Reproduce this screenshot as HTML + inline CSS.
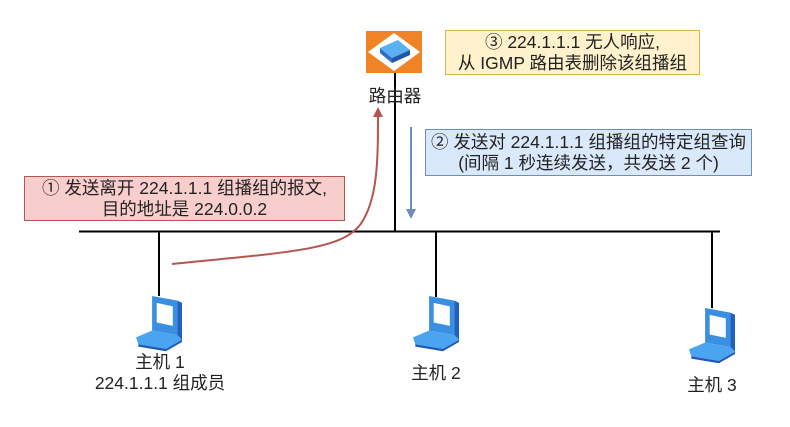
<!DOCTYPE html>
<html><head><meta charset="utf-8"><style>
body{margin:0;width:790px;height:427px;background:#fff;overflow:hidden;font-family:"Liberation Sans","Noto Sans CJK SC",sans-serif;}
.t{position:absolute;font-size:17.5px;color:#222;text-align:center;white-space:nowrap;line-height:21px}
.b{position:absolute;box-sizing:border-box;font-size:17.5px;color:#222;text-align:center;line-height:21px;display:flex;flex-direction:column;justify-content:center;white-space:nowrap}
</style></head><body>
<svg width="790" height="427" style="position:absolute;left:0;top:0">
<defs>
<marker id="ar" markerWidth="10" markerHeight="10" refX="5" refY="5" orient="auto" markerUnits="userSpaceOnUse"><path d="M0,0 L10,5 L0,10 Z" fill="#b85450"/></marker>
<marker id="ab" markerWidth="10" markerHeight="10" refX="5" refY="5" orient="auto" markerUnits="userSpaceOnUse"><path d="M0,0 L10,5 L0,10 Z" fill="#6c8ebf"/></marker>
<g id="lap"><path d="M14,0 L36,4 L36,34 L14,30 Z" fill="#3a8fe0"/><path d="M18,6 L32,9 L32,26 L18,23 Z" fill="#fff"/><path d="M36,4 L40,6 L40,38 L36,34Z" fill="#2060c0"/><path d="M0,36 L14,30 L36,34 L40,38 L26,46 L2,42 Z" fill="#4aa4f0"/><path d="M2,42 L26,46 L40,38 L40,40 L26,48 L2,44Z" fill="#1d5bb8"/></g>
</defs>
<line x1="79" y1="231.5" x2="720" y2="231.5" stroke="#000" stroke-width="2"/>
<line x1="395" y1="73" x2="395" y2="231" stroke="#000" stroke-width="2"/>
<line x1="159" y1="231" x2="159" y2="296" stroke="#000" stroke-width="2"/>
<line x1="436" y1="231" x2="436" y2="297" stroke="#000" stroke-width="2"/>
<line x1="712" y1="231" x2="712" y2="308" stroke="#000" stroke-width="2"/>
<rect x="366" y="31" width="56" height="42" fill="#f08326"/>
<path d="M394,33 L420,52 L394,71 L368,52 Z" fill="#fff"/>
<path d="M380,48 L398,40 L410,50 L392,58 Z" fill="#5ab0f0"/><path d="M380,48 L392,58 L392,63 L380,53Z" fill="#2a70c8"/><path d="M392,58 L410,50 L410,55 L392,63Z" fill="#1e55a8"/>
<use href="#lap" transform="translate(136,296) scale(1.15)"/>
<use href="#lap" transform="translate(413,296) scale(1.15)"/>
<use href="#lap" transform="translate(689,308) scale(1.15)"/>
<path d="M172,264 C290,252 340,250 360,225 C378,200 378,160 378,112" fill="none" stroke="#b85450" stroke-width="2" marker-end="url(#ar)"/>
<line x1="411" y1="127" x2="411" y2="214" stroke="#6c8ebf" stroke-width="2" marker-end="url(#ab)"/>
</svg>
<div class="t" style="left:355px;top:86px;width:80px">路由器</div>
<div class="b" style="left:445px;top:30px;width:255px;height:45px;background:#fff2cc;border:1px solid #d6b656">③ 224.1.1.1 无人响应,<br>从 IGMP 路由表删除该组播组</div>
<div class="b" style="left:425px;top:129px;width:327px;height:47px;background:#dae8fc;border:1px solid #6c8ebf">② 发送对 224.1.1.1 组播组的特定组查询<br>(间隔 1 秒连续发送，共发送 2 个)</div>
<div class="b" style="left:24px;top:176px;width:321px;height:45px;background:#f8cecc;border:1px solid #b85450">① 发送离开 224.1.1.1 组播组的报文,<br>目的地址是 224.0.0.2</div>
<div class="t" style="left:60px;top:352px;width:200px">主机 1<br>224.1.1.1 组成员</div>
<div class="t" style="left:386px;top:363px;width:100px">主机 2</div>
<div class="t" style="left:662px;top:375px;width:100px">主机 3</div>
</body></html>
